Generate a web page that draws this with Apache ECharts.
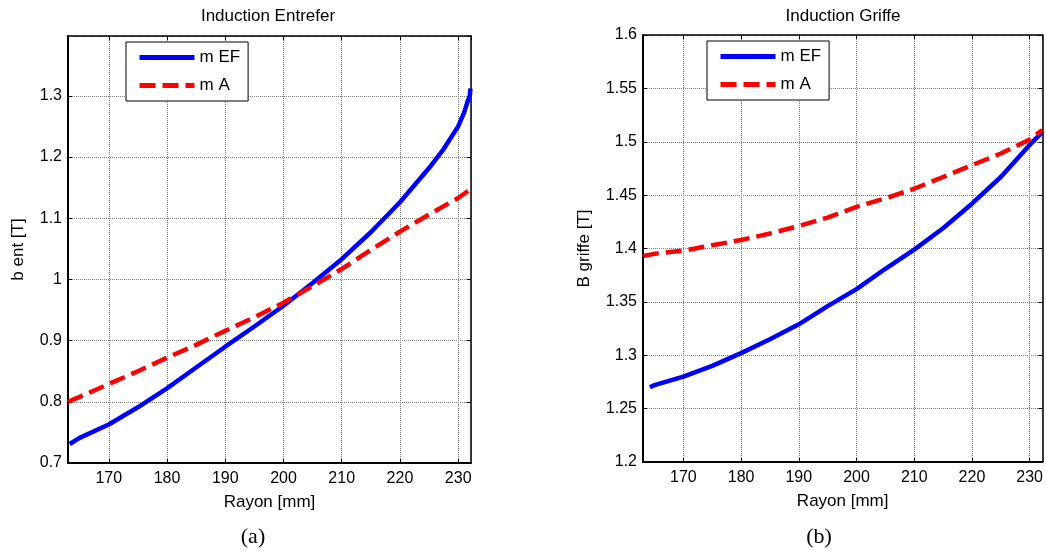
<!DOCTYPE html>
<html>
<head>
<meta charset="utf-8">
<script src="https://cdn.jsdelivr.net/npm/echarts@6/dist/echarts.min.js"></script>
<style>
html,body{margin:0;padding:0;background:#fff;}
#c{width:1046px;height:555px;}
</style>
</head>
<body>
<div id="c"></div>
<script>
// ---- Data ----
const titles = ['Induction Entrefer', 'Induction Griffe'];
const yNames = ['b ent [T]', 'B griffe [T]'];
const xName = 'Rayon [mm]';
const captions = ['(a)', '(b)'];
const seriesNames = ['m EF', 'm A'];

const xRange = [163, 232.2];
const yRangeLeft = [0.7, 1.3977];
const yRangeRight = [1.2, 1.6];

const leftEF_x = [163.3,165,170,175,180,185,190,195,200,205,210,215,220,225,227.5,230,231,231.6,232.0,232.1];
const leftEF_y = [0.731,0.741,0.763,0.791,0.822,0.856,0.890,0.923,0.957,0.994,1.033,1.077,1.126,1.182,1.213,1.250,1.272,1.290,1.300,1.312];

const leftA_x = [163,165,170,175,180,185,190,195,200,205,210,215,220,225,230,232.2];
const leftA_y = [0.800,0.808,0.829,0.850,0.872,0.893,0.916,0.938,0.962,0.989,1.017,1.048,1.078,1.106,1.133,1.148];

const rightEF_x = [164.2,165,170,175,180,185,190,195,200,205,210,215,220,225,230,232.2];
const rightEF_y = [1.270,1.272,1.280,1.290,1.302,1.315,1.329,1.346,1.362,1.381,1.399,1.419,1.442,1.467,1.497,1.509];

const rightA_x = [163,165,170,175,180,185,190,195,200,205,210,215,220,225,230,232.2];
const rightA_y = [1.393,1.395,1.398,1.403,1.408,1.414,1.421,1.429,1.439,1.447,1.456,1.467,1.478,1.489,1.502,1.511];

// ---- Build ----
const zip = (xs, ys) => xs.map((x, i) => [x, ys[i]]);
const FONT = 'Liberation Sans, Arial, sans-serif';
const SERIF = 'Liberation Serif, Times New Roman, serif';

const grids = [
  {left: 68, top: 36, width: 403, height: 427},
  {left: 643, top: 35, width: 403, height: 427}
];

function mainX(gi) {
  return {
    type: 'value', gridIndex: gi, position: 'bottom',
    min: xRange[0], max: xRange[1], splitNumber: 7, minInterval: 10, maxInterval: 10,
    name: xName, nameLocation: 'middle', nameGap: 31,
    nameTextStyle: {fontFamily: FONT, fontSize: 17, color: '#000'},
    axisLine: {show: true, onZero: false, lineStyle: {color: '#000', width: 2}},
    axisTick: {show: true, inside: true, length: 4, lineStyle: {color: '#000', width: 1}},
    axisLabel: {show: true, showMinLabel: false, showMaxLabel: false, margin: 8,
      fontFamily: FONT, fontSize: 16, color: '#000'},
    splitLine: {show: true, lineStyle: {color: '#808080', width: 1, type: [1, 1]}}
  };
}
function topX(gi) {
  return {
    type: 'value', gridIndex: gi, position: 'top',
    min: xRange[0], max: xRange[1], splitNumber: 7, minInterval: 10, maxInterval: 10,
    axisLine: {show: true, onZero: false, lineStyle: {color: '#000', width: 1.5}},
    axisTick: {show: true, inside: true, length: 4, lineStyle: {color: '#000', width: 1}},
    axisLabel: {show: false}, splitLine: {show: false}
  };
}
function mainY(gi, rng, split, name, gap, showMax) {
  return {
    type: 'value', gridIndex: gi, position: 'left',
    min: rng[0], max: rng[1], splitNumber: split,
    name: name, nameLocation: 'middle', nameGap: gap, nameRotate: 90,
    nameTextStyle: {fontFamily: FONT, fontSize: 17, color: '#000'},
    axisLine: {show: true, onZero: false, lineStyle: {color: '#000', width: 2}},
    axisTick: {show: true, inside: true, length: 4, lineStyle: {color: '#000', width: 1}},
    axisLabel: {show: true, showMaxLabel: showMax, margin: 6,
      fontFamily: FONT, fontSize: 16, color: '#000'},
    splitLine: {show: true, lineStyle: {color: '#808080', width: 1, type: [1, 1]}}
  };
}
function rightY(gi, rng, split) {
  return {
    type: 'value', gridIndex: gi, position: 'right',
    min: rng[0], max: rng[1], splitNumber: split,
    axisLine: {show: true, onZero: false, lineStyle: {color: '#000', width: 1.5}},
    axisTick: {show: true, inside: true, length: 4, lineStyle: {color: '#000', width: 1}},
    axisLabel: {show: false}, splitLine: {show: false}
  };
}

const blueStyle = {color: '#0000ff', width: 4.5, type: 'solid'};
const redStyle = {color: '#ff0000', width: 4.5, type: [16, 7]};

function line(name, data, xi, yi, style) {
  return {
    type: 'line', name: name, data: data, xAxisIndex: xi, yAxisIndex: yi,
    showSymbol: false, symbol: 'none', smooth: false,
    lineStyle: style, itemStyle: {color: style.color},
    animation: false, z: 3
  };
}

function legend(left, top) {
  return {
    left: left, top: top, orient: 'vertical',
    data: seriesNames,
    backgroundColor: '#fff', borderColor: '#000', borderWidth: 1,
    padding: [7, 8, 7, 11], itemGap: 11, itemWidth: 55, itemHeight: 14,
    itemStyle: {color: 'rgba(0,0,0,0)', borderWidth: 0, borderColor: 'rgba(0,0,0,0)', opacity: 0},
    lineStyle: {width: 5},
    textStyle: {fontFamily: FONT, fontSize: 17, color: '#000'},
    selectedMode: false
  };
}

const option = {
  animation: false,
  backgroundColor: '#fff',
  grid: grids.map(g => Object.assign({containLabel: false, show: false}, g)),
  xAxis: [mainX(0), topX(0), mainX(1), topX(1)],
  yAxis: [
    mainY(0, yRangeLeft, 7, yNames[0], 41, false), rightY(0, yRangeLeft, 7),
    mainY(1, yRangeRight, 8, yNames[1], 50, true), rightY(1, yRangeRight, 8)
  ],
  legend: [legend(126, 42), legend(707, 41)],
  series: [
    line(seriesNames[0], zip(leftEF_x, leftEF_y), 0, 0, blueStyle),
    line(seriesNames[1], zip(leftA_x, leftA_y), 0, 0, redStyle),
    line(seriesNames[0], zip(rightEF_x, rightEF_y), 2, 2, blueStyle),
    line(seriesNames[1], zip(rightA_x, rightA_y), 2, 2, redStyle)
  ],
  graphic: [
    {type: 'text', x: 268, y: 16, style: {text: titles[0], font: '17px ' + FONT, fill: '#000', align: 'center', verticalAlign: 'middle'}},
    {type: 'text', x: 843, y: 16, style: {text: titles[1], font: '17px ' + FONT, fill: '#000', align: 'center', verticalAlign: 'middle'}},
    {type: 'text', x: 253, y: 537, style: {text: captions[0], font: '22px ' + SERIF, fill: '#000', align: 'center', verticalAlign: 'middle'}},
    {type: 'text', x: 819, y: 537, style: {text: captions[1], font: '22px ' + SERIF, fill: '#000', align: 'center', verticalAlign: 'middle'}}
  ]
};

const chart = echarts.init(document.getElementById('c'), null, {renderer: 'canvas'});
chart.setOption(option);
</script>
</body>
</html>
